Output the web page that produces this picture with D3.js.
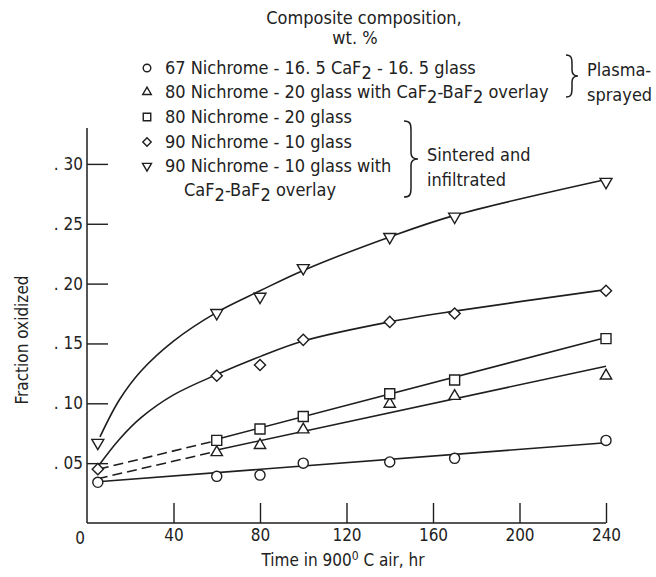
<!DOCTYPE html>
<html>
<head>
<meta charset="utf-8">
<script src="https://cdn.jsdelivr.net/npm/d3@7"></script>
<style>
  body { margin: 0; background: #fff; }
  text { font-family: "Liberation Sans Narrow", "DejaVu Sans Condensed", sans-serif; fill: #222; }
</style>
</head>
<body>
<div class="chart"></div>
<script>
var svgWidth = 656;
var svgHeight = 577;

// plot area in pixels: x 0..240 hr, y 0..0.33
var plot = { left: 87, right: 606, top: 128, bottom: 523 };

// ---------- data ----------
var xTicks = [40, 80, 120, 160, 200, 240];
var yTicks = [0.05, 0.10, 0.15, 0.20, 0.25, 0.30];
var yTickLabels = [". 05", ". 10", ". 15", ". 20", ". 25", ". 30"];

// measured points (time hr, fraction oxidized)
var circleT = [5, 60, 80, 100, 140, 170, 240];
var circleV = [0.034, 0.039, 0.040, 0.050, 0.051, 0.054, 0.069];
var triUpT = [60, 80, 100, 140, 170, 240];
var triUpV = [0.059, 0.065, 0.078, 0.0995, 0.106, 0.123];
var squareT = [60, 80, 100, 140, 170, 240];
var squareV = [0.069, 0.0785, 0.089, 0.108, 0.1195, 0.154];
var diamondT = [5, 60, 80, 100, 140, 170, 240];
var diamondV = [0.045, 0.123, 0.132, 0.153, 0.168, 0.175, 0.194];
var triDownT = [5, 60, 80, 100, 140, 170, 240];
var triDownV = [0.067, 0.1755, 0.189, 0.213, 0.239, 0.256, 0.285];

// faired curves drawn through the points
var circleFitT = [5, 240];
var circleFitV = [0.0345, 0.067];
var triUpFitT = [60, 240];
var triUpFitV = [0.061, 0.131];
var triUpDashT = [5, 60];
var triUpDashV = [0.037, 0.060];
var squareFitT = [60, 240];
var squareFitV = [0.070, 0.155];
var squareDashT = [5.5, 60];
var squareDashV = [0.045, 0.069];
var diamondFitT = [5, 15, 25, 40, 60, 80, 100, 140, 170, 240];
var diamondFitV = [0.047, 0.070, 0.088, 0.107, 0.124, 0.139, 0.152, 0.168, 0.177, 0.195];
var triDownFitT = [6, 15, 25, 40, 60, 80, 100, 140, 170, 240];
var triDownFitV = [0.072, 0.103, 0.127, 0.152, 0.176, 0.194, 0.211, 0.239, 0.257, 0.287];

var svg = d3.select(".chart")
  .append("svg")
  .attr("width", svgWidth)
  .attr("height", svgHeight);

var x = d3.scaleLinear().domain([0, 240]).range([plot.left, plot.right]);
var y = d3.scaleLinear().domain([0, 0.33]).range([plot.bottom, plot.top]);

var ink = "#1e1e1e";

// ---------- axes ----------
var xAxis = d3.axisBottom(x)
  .tickValues(xTicks)
  .tickSize(-20)
  .tickPadding(8)
  .tickFormat(d3.format("d"));

var gx = svg.append("g")
  .attr("transform", `translate(0, ${plot.bottom})`)
  .call(xAxis);

var yAxis = d3.axisLeft(y)
  .tickValues(yTicks)
  .tickSize(-21)
  .tickPadding(4)
  .tickFormat((d, i) => yTickLabels[i]);

var gy = svg.append("g")
  .attr("transform", `translate(${plot.left}, 0)`)
  .call(yAxis);

[gx, gy].forEach(g => {
  g.select(".domain").remove();
  g.selectAll(".tick line").attr("stroke", ink).attr("stroke-width", 1.4);
  g.selectAll(".tick text")
    .style("font-size", "17px")
    .attr("fill", ink);
});
gx.selectAll(".tick text").attr("dy", "0.6em");

// axis lines
svg.append("line")
  .attr("x1", x(0)).attr("x2", x(240))
  .attr("y1", y(0)).attr("y2", y(0))
  .attr("stroke", ink).attr("stroke-width", 1.5);
svg.append("line")
  .attr("x1", x(0)).attr("x2", x(0))
  .attr("y1", y(0)).attr("y2", y(0.33))
  .attr("stroke", ink).attr("stroke-width", 1.5);

svg.append("text")
  .attr("x", x(0) - 7)
  .attr("y", y(0) + 21)
  .attr("text-anchor", "middle")
  .style("font-size", "17px")
  .text("0");

// axis titles
var xTitle = svg.append("text")
  .attr("x", 343)
  .attr("y", 566)
  .attr("text-anchor", "middle")
  .style("font-size", "17px");
xTitle.append("tspan").text("Time in 900");
xTitle.append("tspan").attr("dy", -6).style("font-size", "12px").text("0");
xTitle.append("tspan").attr("dy", 6).text(" C air,  hr");

svg.append("text")
  .attr("transform", "translate(28, 340) rotate(-90)")
  .attr("text-anchor", "middle")
  .style("font-size", "17px")
  .text("Fraction oxidized");

// ---------- curves ----------
function zip(ts, vs) { return ts.map((t, i) => [t, vs[i]]); }

var line = d3.line()
  .x(d => x(d[0]))
  .y(d => y(d[1]))
  .curve(d3.curveCatmullRom.alpha(0.5));

var curves = [
  { pts: zip(circleFitT, circleFitV), dash: null },
  { pts: zip(triUpFitT, triUpFitV), dash: null },
  { pts: zip(triUpDashT, triUpDashV), dash: "10,5" },
  { pts: zip(squareFitT, squareFitV), dash: null },
  { pts: zip(squareDashT, squareDashV), dash: "10,5" },
  { pts: zip(diamondFitT, diamondFitV), dash: null },
  { pts: zip(triDownFitT, triDownFitV), dash: null }
];

svg.append("g").selectAll("path")
  .data(curves)
  .enter()
  .append("path")
  .attr("d", d => line(d.pts))
  .attr("fill", "none")
  .attr("stroke", ink)
  .attr("stroke-width", 1.6)
  .attr("stroke-dasharray", d => d.dash);

// ---------- markers ----------
var shapes = {
  circle: { type: d3.symbolCircle, size: 80, rot: 0 },
  triUp: { type: d3.symbolTriangle, size: 56, rot: 0 },
  square: { type: d3.symbolSquare, size: 100, rot: 0 },
  diamond: { type: d3.symbolSquare, size: 62, rot: 45 },
  triDown: { type: d3.symbolTriangle, size: 62, rot: 180 }
};

var series = [
  { shape: "circle", pts: zip(circleT, circleV) },
  { shape: "triUp", pts: zip(triUpT, triUpV) },
  { shape: "square", pts: zip(squareT, squareV) },
  { shape: "diamond", pts: zip(diamondT, diamondV) },
  { shape: "triDown", pts: zip(triDownT, triDownV) }
];

function drawMarker(g, shape, cx, cy, scale) {
  var s = shapes[shape];
  g.append("path")
    .attr("d", d3.symbol().type(s.type).size(s.size * scale * scale)())
    .attr("transform", `translate(${cx}, ${cy}) rotate(${s.rot})`)
    .attr("fill", "#fff")
    .attr("stroke", ink)
    .attr("stroke-width", 1.4);
}

var markerGroup = svg.append("g");
series.forEach(s => {
  s.pts.forEach(p => drawMarker(markerGroup, s.shape, x(p[0]), y(p[1]), 1));
});

// ---------- legend ----------
var legend = svg.append("g");

legend.append("text")
  .attr("x", 364).attr("y", 24)
  .attr("text-anchor", "middle")
  .style("font-size", "18px")
  .text("Composite composition,");
legend.append("text")
  .attr("x", 355).attr("y", 44)
  .attr("text-anchor", "middle")
  .style("font-size", "18px")
  .text("wt. %");

// each entry: text pieces, [string, isSubscript]
var legendRows = [
  { shape: "circle", parts: [["67 Nichrome - 16. 5 CaF", 0], ["2", 1], [" - 16. 5 glass", 0]] },
  { shape: "triUp", parts: [["80 Nichrome - 20 glass with  CaF", 0], ["2", 1], ["-BaF", 0], ["2", 1], [" overlay", 0]] },
  { shape: "square", parts: [["80 Nichrome - 20 glass", 0]] },
  { shape: "diamond", parts: [["90 Nichrome - 10 glass", 0]] },
  { shape: "triDown", parts: [["90 Nichrome - 10 glass with", 0]] },
  { shape: null, parts: [["CaF", 0], ["2", 1], ["-BaF", 0], ["2", 1], [" overlay", 0]] }
];
var legendY = [68, 92, 117, 142, 166, 190];

legendRows.forEach((row, i) => {
  var cy = legendY[i];
  if (row.shape) drawMarker(legend, row.shape, 147, cy, 0.75);
  var t = legend.append("text")
    .attr("x", row.shape ? 165 : 184)
    .attr("y", cy + 6)
    .style("font-size", "18px");
  var shift = 0;
  row.parts.forEach(p => {
    var ts = t.append("tspan").text(p[0]);
    if (p[1] && shift === 0) { ts.attr("dy", 5); shift = 5; }
    else if (!p[1] && shift !== 0) { ts.attr("dy", -5); shift = 0; }
  });
});

// braces
function brace(x0, y1, y2, w) {
  var mid = (y1 + y2) / 2, xm = x0 + w * 0.5;
  return `M${x0},${y1} C${x0 + w * 0.45},${y1} ${xm},${y1 + 3} ${xm},${y1 + 9}` +
    ` L${xm},${mid - 6} C${xm},${mid - 2} ${x0 + w * 0.7},${mid} ${x0 + w},${mid}` +
    ` C${x0 + w * 0.7},${mid} ${xm},${mid + 2} ${xm},${mid + 6}` +
    ` L${xm},${y2 - 9} C${xm},${y2 - 3} ${x0 + w * 0.45},${y2} ${x0},${y2}`;
}

legend.append("path")
  .attr("d", brace(566, 55, 97, 12))
  .attr("fill", "none").attr("stroke", ink).attr("stroke-width", 1.5);
legend.append("path")
  .attr("d", brace(404, 121, 197, 14))
  .attr("fill", "none").attr("stroke", ink).attr("stroke-width", 1.5);

[["Plasma-", 587, 76], ["sprayed", 587, 101], ["Sintered and", 427, 161], ["infiltrated", 427, 186]]
  .forEach(d => {
    legend.append("text")
      .attr("x", d[1]).attr("y", d[2])
      .style("font-size", "18px")
      .text(d[0]);
  });
</script>
</body>
</html>
